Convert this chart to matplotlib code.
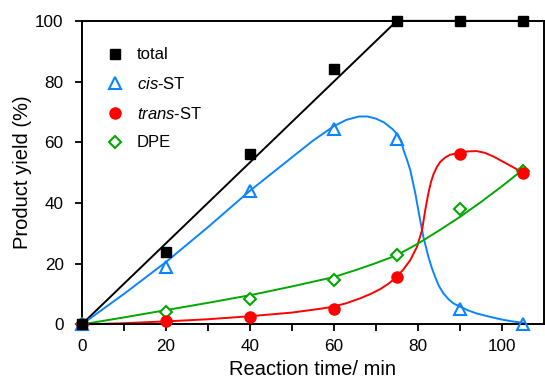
import numpy as np
import matplotlib
matplotlib.use("Agg")
import matplotlib.pyplot as plt

plt.rcParams['font.family'] = ['Liberation Sans', 'DejaVu Sans']
plt.rcParams['mathtext.fontset'] = 'custom'
plt.rcParams['mathtext.it'] = 'Liberation Sans:italic'
plt.rcParams['mathtext.rm'] = 'Liberation Sans'

# measured points
time = [0, 20, 40, 60, 75, 90, 105]
total = [0, 24, 56, 84, 100, 100, 100]
cis_st = [0, 19, 44, 64.5, 61, 5, 0]
trans_st = [0, 1, 2.5, 5, 15.5, 56, 50]
dpe = [0, 4, 8.5, 14.5, 23, 38, 50.5]

# fitted curves
total_fx = [0, 75, 105]
total_fy = [0, 100, 100]

cis_fx = [0, 10, 20, 30, 40, 50, 55, 60, 63, 66, 68, 70, 72, 74, 75, 76, 76.6, 77.4, 78.2, 79.4,
          80.4, 81.3, 82.5, 83.3, 84.1, 85, 86.1, 87.3, 88.5, 90.1, 92, 94, 97.2, 100, 102.5, 105]
cis_fy = [0, 10, 20.5, 32, 44, 55, 60.5, 65.3, 67.4, 68.5, 68.5, 67.8, 66.5, 64.3, 62.8, 60.5, 57.4, 54.3, 50.8, 43.1,
          35.4, 28.9, 22.3, 18.7, 15.7, 12.7, 10.2, 8.3, 6.9, 5.8, 4.6, 3.6, 2.5, 1.6, 1.0, 0.5]

trans_fx = [0, 10, 20, 30, 40, 50, 57, 60, 63, 66.3, 69, 71, 73, 75, 76.6, 78.2, 79.8, 81, 81.7, 82.5,
            83.1, 83.7, 84.5, 85.3, 86.5, 87.7, 90, 92, 94, 96, 98, 100, 102, 105]
trans_fy = [0, 0.4, 1, 1.7, 2.7, 3.9, 5.2, 5.9, 7.0, 8.6, 10.2, 11.6, 13.4, 15.7, 18.2, 21.2, 25.6, 31.1, 37.2, 43.2,
            46.8, 49.4, 51.8, 53.5, 55.0, 55.9, 56.6, 57.0, 57.1, 56.5, 55.3, 53.8, 52.3, 50]

dpe_fx = [0, 10, 20, 30, 40, 50, 60, 65, 70, 75, 80, 85, 90, 95, 100, 105]
dpe_fy = [0, 2.3, 4.7, 7.1, 9.6, 12.5, 15.6, 17.8, 20.2, 22.8, 26.6, 30.9, 35.4, 40.3, 45.5, 51]

black = '#000000'
blue = '#0a84ff'
red = '#ff0000'
green = '#00a800'

fig = plt.figure(figsize=(5.45, 3.79), dpi=100)
ax = fig.add_axes([0.150, 0.144, 0.848, 0.801])

lw = 1.4
ax.plot(total_fx, total_fy, color=black, lw=lw, clip_on=False)
ax.plot(cis_fx, cis_fy, color=blue, lw=lw, clip_on=False)
ax.plot(trans_fx, trans_fy, color=red, lw=lw, clip_on=False)
ax.plot(dpe_fx, dpe_fy, color=green, lw=lw, clip_on=False)

ax.plot(time, dpe, ls='none', marker='D', ms=6.5, mfc='white', mec=green, mew=1.5,
        label='DPE', clip_on=False, zorder=3)
ax.plot(time, trans_st, ls='none', marker='o', ms=8, mfc=red, mec=red,
        label=r'$\it{trans}$-ST', clip_on=False, zorder=4)
ax.plot(time, cis_st, ls='none', marker='^', ms=9, mfc='none', mec=blue, mew=1.5,
        label=r'$\it{cis}$-ST', clip_on=False, zorder=5)
ax.plot(time, total, ls='none', marker='s', ms=7.5, mfc=black, mec=black,
        label='total', clip_on=False, zorder=6)

ax.set_xlim(0, 110)
ax.set_ylim(0, 100)
ax.set_xticks([0, 20, 40, 60, 80, 100])
ax.set_xticks(np.arange(10, 110, 20), minor=True)
ax.set_yticks([0, 20, 40, 60, 80, 100])
ax.tick_params(which='both', direction='out', length=5, width=1.3, labelsize=12.3)
ax.tick_params(axis='x', which='both', pad=5.5)
ax.tick_params(axis='y', pad=8)

for s in ax.spines.values():
    s.set_linewidth(1.4)

ax.set_xlabel('Reaction time/ min', fontsize=14.5, labelpad=4)
ax.set_ylabel('Product yield (%)', fontsize=14.5, labelpad=2)

h, l = ax.get_legend_handles_labels()
ax.legend(h[::-1], l[::-1], loc='upper left', bbox_to_anchor=(0.035, 0.94), frameon=False,
          fontsize=12, handlelength=1.0, handletextpad=0.85, labelspacing=0.82, borderpad=0)

plt.savefig('out.png', dpi=100)
